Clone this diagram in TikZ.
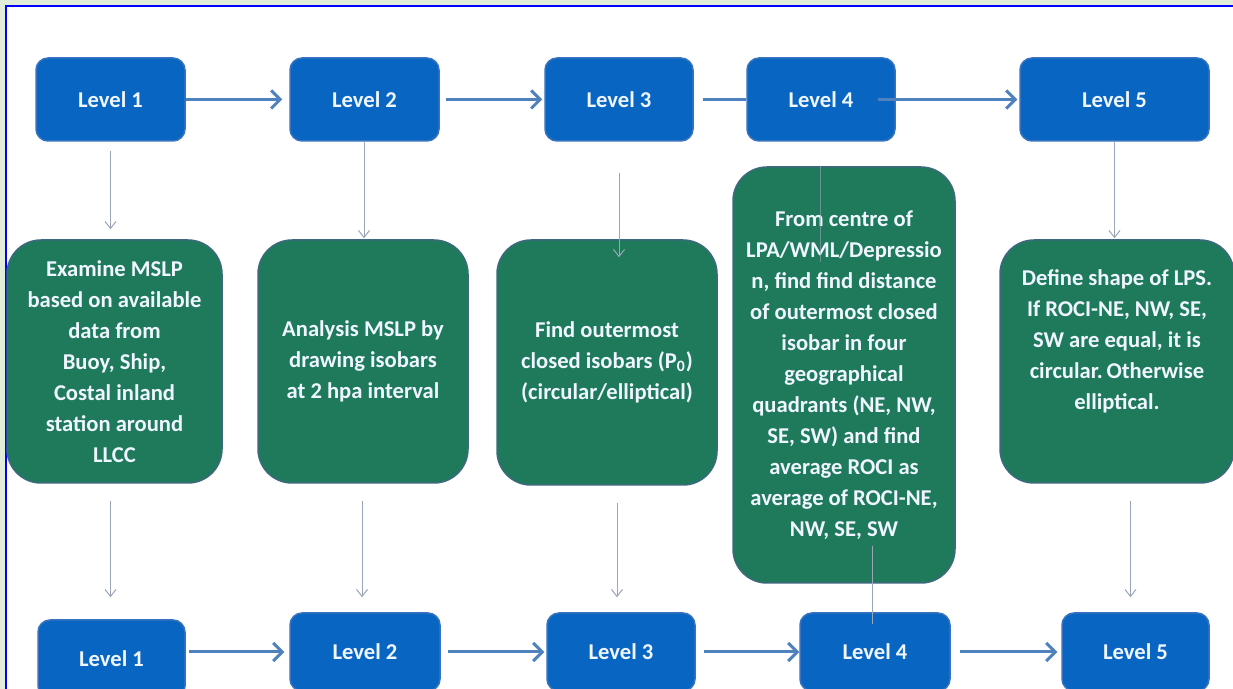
\documentclass[tikz,border=0pt]{standalone}
\usepackage{fontspec}
\setmainfont{Carlito}
\usetikzlibrary{arrows.meta}
\definecolor{bgout}{RGB}{225,237,217}
\definecolor{frameblue}{RGB}{0,0,255}
\definecolor{boxblue}{RGB}{8,102,194}
\definecolor{boxblueline}{RGB}{55,115,190}
\definecolor{boxgreen}{RGB}{31,122,92}
\definecolor{boxgreenline}{RGB}{60,105,125}
\definecolor{arrowblue}{RGB}{79,129,189}
\definecolor{arrowgray}{RGB}{155,165,185}
\definecolor{boxtext}{RGB}{240,246,255}
\tikzset{
  bbox/.style={draw=boxblueline, line width=0.75pt, fill=boxblue, rounded corners=6pt,
    text=boxtext, font=\bfseries\fontsize{11.3pt}{15.5pt}\selectfont, align=center, inner sep=0pt},
  gbox/.style={draw=boxgreenline, line width=0.75pt, fill=boxgreen, rounded corners=17pt,
    text=boxtext, font=\bfseries\fontsize{11.3pt}{15.5pt}\selectfont, align=center, inner sep=0pt},
  thickarrow/.style={draw=arrowblue, line width=1.5pt, -{Straight Barb[length=4.5pt,width=9pt]}},
  thickline/.style={draw=arrowblue, line width=1.5pt},
  thinarrow/.style={draw=arrowgray, line width=0.5pt, -{Straight Barb[length=3.5pt,width=5.5pt]}},
  thinline/.style={draw=arrowgray, line width=0.5pt},
}
\begin{document}
\begin{tikzpicture}[x=0.5pt,y=-0.5pt]
\useasboundingbox (0,0) rectangle (1233,689);
\clip (0,0) rectangle (1233,689);
\fill[bgout] (0,0) rectangle (1233,689);
\draw[frameblue, line width=1.4pt, fill=white] (6,6) rectangle (1250,710);

% top row
\node[bbox, minimum width=74.5pt, minimum height=41.5pt] (T1) at (110.5,99.5) {Level 1};
\node[bbox, minimum width=74.5pt, minimum height=41.5pt] (T2) at (364.5,99.5) {Level 2};
\node[bbox, minimum width=74pt, minimum height=41.5pt] (T3) at (619,99.5) {Level 3};
\node[bbox, minimum width=74pt, minimum height=41.5pt] (T4) at (821,99.5) {Level 4};
\node[bbox, minimum width=94.5pt, minimum height=41.5pt] (T5) at (1114.5,99.5) {Level 5};

% green boxes
\node[gbox, minimum width=107.5pt, minimum height=121.5pt] (G1) at (114.5,361.5)
  {Examine MSLP\\based on available\\data from\\Buoy, Ship,\\Costal inland\\station around\\LLCC};
\node[gbox, minimum width=105pt, minimum height=121.5pt] (G2) at (363,361.5)
  {Analysis MSLP by\\drawing isobars\\at 2 hpa interval};
\node[gbox, minimum width=110pt, minimum height=122.5pt] (G3) at (607,362.5)
  {Find outermost\\closed isobars (P\textsubscript{0})\\(circular/elliptical)};
\node[gbox, minimum width=111pt, minimum height=208pt] (G4) at (844,375)
  {From centre of\\LPA/WML/Depressio\\n, find find distance\\of outermost closed\\isobar in four\\geographical\\quadrants (NE, NW,\\SE, SW) and find\\average ROCI as\\average of ROCI-NE,\\NW, SE, SW};
\node[gbox, minimum width=117pt, minimum height=121.5pt] (G5) at (1117,361.5)
  {Define shape of LPS.\\If ROCI-NE, NW, SE,\\SW are equal, it is\\circular.\,Otherwise\\elliptical.\\[6pt]};

% bottom row
\node[bbox, minimum width=73.5pt, minimum height=39pt] (B1) at (111.5,659) {Level 1};
\node[bbox, minimum width=75pt, minimum height=39pt] (B2) at (365,652) {Level 2};
\node[bbox, minimum width=74pt, minimum height=39pt] (B3) at (621,652) {Level 3};
\node[bbox, minimum width=75pt, minimum height=39pt] (B4) at (875,652) {Level 4};
\node[bbox, minimum width=73.5pt, minimum height=39pt] (B5) at (1135.5,652) {Level 5};

% top horizontal arrows
\draw[thickarrow, shorten >=3.5pt] (T1.east) -- (T2.west);
\draw[thickarrow, shorten <=3pt, shorten >=1pt] (T2.east) -- (T3.west);
\draw[thickline, shorten <=4.5pt] (T3.east) -- (T4.west);
\draw[thickarrow, shorten <=-9pt, shorten >=1pt] (T4.east) -- (T5.west);

% top vertical arrows
\draw[thinarrow, shorten <=4.5pt, shorten >=5pt] (T1.south) -- (T1.south |- G1.north);
\draw[thinarrow, shorten >=0.5pt] ([xshift=-0.25pt]T2.south) -- ([xshift=-0.25pt]T2.south |- G2.north);
\draw[thinarrow, shorten <=15.5pt, shorten >=-9pt] (T3.south) -- (T3.south |- G3.north);
\draw[thinline, draw opacity=0.6] ([xshift=-0.5pt]T4.south |- G4.north) -- ([xshift=-0.5pt,yshift=-48pt]T4.south |- G4.north);
\draw[thinarrow, shorten >=0.5pt] (T5.south) -- (T5.south |- G5.north);

% bottom vertical arrows
\draw[thinarrow, shorten <=8.5pt, shorten >=11pt] (T1.south |- G1.south) -- (T1.south |- B1.north);
\draw[thinarrow, shorten <=8.5pt, shorten >=7.5pt] ([xshift=-0.5pt]G2.south) -- ([xshift=-0.5pt]G2.south |- B2.north);
\draw[thinarrow, shorten <=8.5pt, shorten >=7.5pt] ([xshift=-1pt]T3.south |- G3.south) -- ([xshift=-1pt]T3.south |- B3.north);
\draw[thinline] ([xshift=-1.5pt,yshift=19pt]B4.north |- G4.south) -- ([xshift=-1.5pt,yshift=-6pt]B4.north);
\draw[thinarrow, shorten <=8.5pt, shorten >=7.5pt] ([xshift=-2.5pt]B5.north |- G5.south) -- ([xshift=-2.5pt]B5.north);

% bottom horizontal arrows
\draw[thickarrow, shorten <=1.5pt, shorten >=2.5pt] (B1.east |- B2.west) -- (B2.west);
\draw[thickarrow, shorten <=3.5pt, shorten >=1pt] (B2.east) -- (B3.west);
\draw[thickarrow, shorten <=4pt] (B3.east) -- (B4.west);
\draw[thickarrow, shorten <=4.5pt, shorten >=2pt] (B4.east) -- (B5.west);
\end{tikzpicture}
\end{document}
